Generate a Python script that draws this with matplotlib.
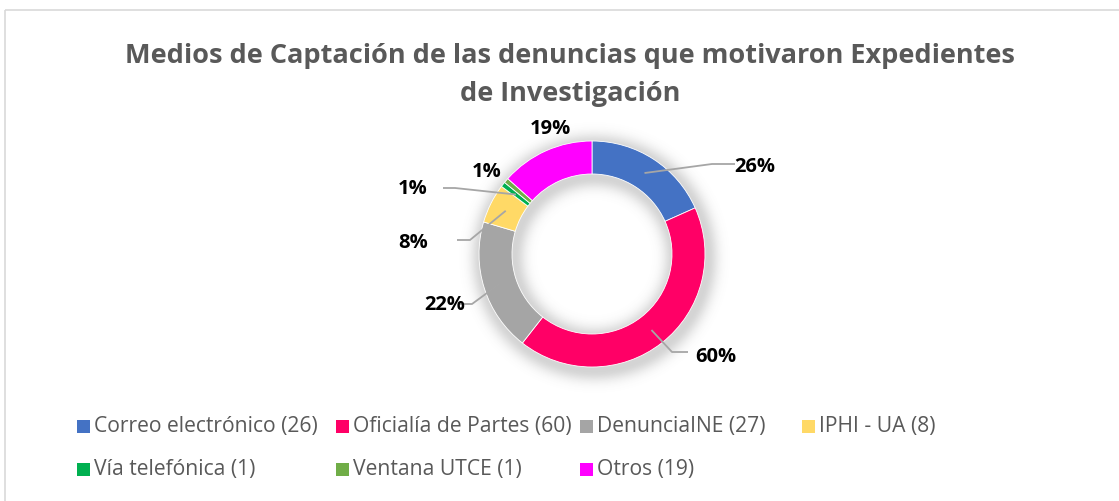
import numpy as np
import matplotlib
matplotlib.use("Agg")
import matplotlib.pyplot as plt
from matplotlib.patches import Rectangle
from matplotlib import font_manager

categories = ["Correo electrónico (26)", "Oficialía de Partes (60)", "DenunciaINE (27)",
              "IPHI - UA (8)", "Vía telefónica (1)", "Ventana UTCE (1)", "Otros (19)"]
values = [26, 60, 27, 8, 1, 1, 19]
pct_labels = ["26%", "60%", "22%", "8%", "1%", "1%", "19%"]
colors = ["#4472C4", "#FF0066", "#A5A5A5", "#FFD966", "#00B050", "#70AD47", "#FF00FF"]
title = "Medios de Captación de las denuncias que motivaron Expedientes\nde Investigación"

W, H = 1119, 502
avail = {f.name for f in font_manager.fontManager.ttflist}
fam = [f for f in ["Open Sans", "DejaVu Sans"] if f in avail]
plt.rcParams['font.family'] = fam

fig = plt.figure(figsize=(W / 100, H / 100), dpi=100)
ax = fig.add_axes([0, 0, 1, 1])
ax.set_xlim(0, W)
ax.set_ylim(H, 0)
ax.axis('off')

# chart border
ax.add_patch(Rectangle((4.5, 11), W + 10, H + 10, fill=False, edgecolor="#D9D9D9", lw=1.2))

cx, cy, R, r_in = 592, 255, 113, 80

# soft shadow
yy, xx = np.mgrid[0:H, 0:W]
d = np.hypot(xx - cx - 2, yy - cy - 3)
out = np.clip(d - R, 0, None)
inn = np.clip(r_in - d, 0, None)
dist = np.where(d > R, out, np.where(d < r_in, inn, 0))
alpha = 0.26 * np.exp(-(dist / 11.0) ** 2)
img = np.zeros((H, W, 4))
img[..., :3] = 0.35
img[..., 3] = alpha
ax.imshow(img, extent=(0, W, H, 0), zorder=1, interpolation='bilinear')
ax.set_xlim(0, W)
ax.set_ylim(H, 0)

# donut drawn in a separate overlay axes with normal orientation
ax2 = fig.add_axes([0, 0, 1, 1])
ax2.set_xlim(0, W)
ax2.set_ylim(0, H)
ax2.axis('off')
wedges, _ = ax2.pie(values, colors=colors, startangle=90, counterclock=False,
                    center=(cx, H - cy), radius=R, frame=True,
                    wedgeprops=dict(width=R - r_in, edgecolor='white', linewidth=0.6))
ax2.set_xlim(0, W)
ax2.set_ylim(0, H)
ax2.axis('off')

# data labels (image pixel coordinates) and leader lines
label_pos = [(755, 167), (716, 357), (445, 305), (413, 243), (413, 189), (487, 172), (550, 129)]
leader_ends = [[(712, 165), (735, 165)], [(672, 353), (688, 353)], [(472, 305), (460, 305)],
               [(470, 241), (457, 241)], [(455, 189), (443, 189)], None, None]
rm = (R + r_in) / 2
for i, w in enumerate(wedges):
    mid = np.deg2rad((w.theta1 + w.theta2) / 2)
    sx, sy = cx + rm * np.cos(mid), cy - rm * np.sin(mid)
    if leader_ends[i] is not None:
        pts = [(sx, sy)] + leader_ends[i]
        ax2.plot([p[0] for p in pts], [H - p[1] for p in pts], color="#A6A6A6", lw=1.3,
                 solid_capstyle='butt', zorder=5)
    lx, ly = label_pos[i]
    ax2.text(lx, H - ly, pct_labels[i], ha='center', va='center', fontsize=14.5,
             fontweight='bold', color='black', zorder=6)

# title
fig.text(570 / W, 1 - 75 / H, title, ha='center', va='center', fontsize=19.5,
         fontweight='bold', color='#595959', linespacing=1.6)

# legend
col_x = [77, 336, 580, 802]
row_y = [427, 470]
for i, (lab, c) in enumerate(zip(categories, colors)):
    x = col_x[i % 4]
    y = row_y[i // 4]
    ax.add_patch(Rectangle((x, y - 6.5), 13, 13, facecolor=c, edgecolor='none', zorder=5))
    ax.text(x + 17, y, lab, ha='left', va='center', fontsize=15.2, color='#595959', zorder=5)

fig.savefig("out.png", dpi=100)
